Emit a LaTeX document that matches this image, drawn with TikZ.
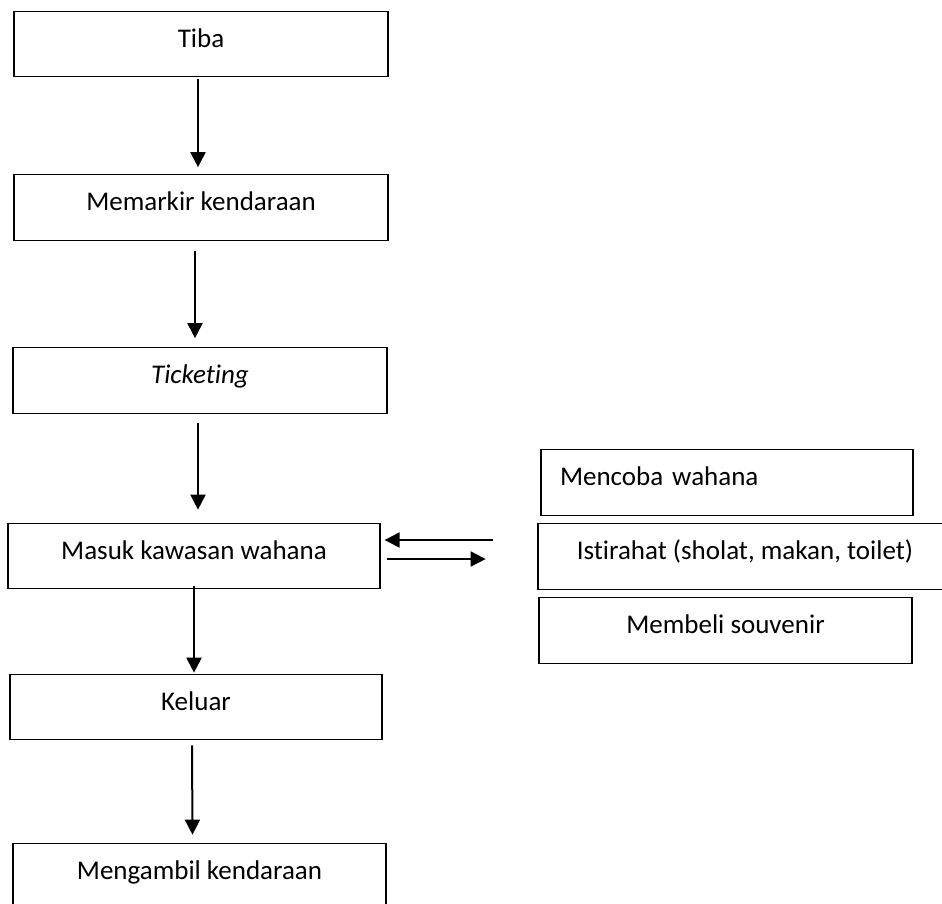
\documentclass[tikz,border=0pt]{standalone}
\usepackage{fontspec}
\setmainfont{Carlito}[Ligatures={NoCommon}]
\usetikzlibrary{arrows.meta,calc}
\begin{document}
\begin{tikzpicture}[x=1pt,y=-1pt,
  box/.style={draw=black, line width=1.2pt, inner sep=0pt, minimum height=65.5pt,
    text height=18pt, text depth=12pt, font=\fontsize{27}{32}\selectfont},
  arr/.style={line width=2pt, -{Triangle[length=15pt,width=15pt]}}]
\useasboundingbox (0,0) rectangle (942,903);
\fill[white] (0,0) rectangle (942,903);
\node[box, minimum width=374pt] (tiba) at (201,44) {Tiba};
\node[box, minimum width=374pt] (mem) at (201,207.5) {Memarkir kendaraan};
\node[box, minimum width=374pt] (tick) at (200,380.5) {\itshape Ticketing};
\node[box, minimum width=372pt] (masuk) at (194,556) {Masuk kawasan wahana};
\node[box, minimum width=372pt] (keluar) at (196,707) {Keluar};
\node[box, minimum width=373pt] (meng) at (199.5,876) {Mengambil kendaraan};
\node[box, minimum width=372pt, text width=334pt, align=left, inner xsep=19pt] (coba) at (727,482.5) {Mencoba wahana};
\node[box, minimum width=414pt] (istirahat) at (745,556.5) {Istirahat (sholat, makan, toilet)};
\node[box, minimum width=373pt] (beli) at (725.5,630.5) {Membeli souvenir};
\draw[arr] ($(tiba.south)+(-3,2)$) -- ($(mem.north)+(-3,-7)$);
\draw[arr] ($(mem.south)+(-6,10)$) -- ($(tick.north)+(-5,-9)$);
\draw[arr] ($(tick.south)+(-2,9)$) -- ($(masuk.north)+(4,-13)$);
\draw[arr] ($(masuk.south)+(0,-3)$) -- ($(keluar.north)+(-2,-1)$);
\draw[arr] ($(keluar.south)+(-4,5)$) -- ($(meng.north)+(-7,-8)$);
\draw[arr] ($(masuk.east)+(112,-16)$) -- ($(masuk.east)+(4,-16)$);
\draw[arr] ($(masuk.east)+(6,3)$) -- ($(masuk.east)+(105,3)$);
\end{tikzpicture}
\end{document}
